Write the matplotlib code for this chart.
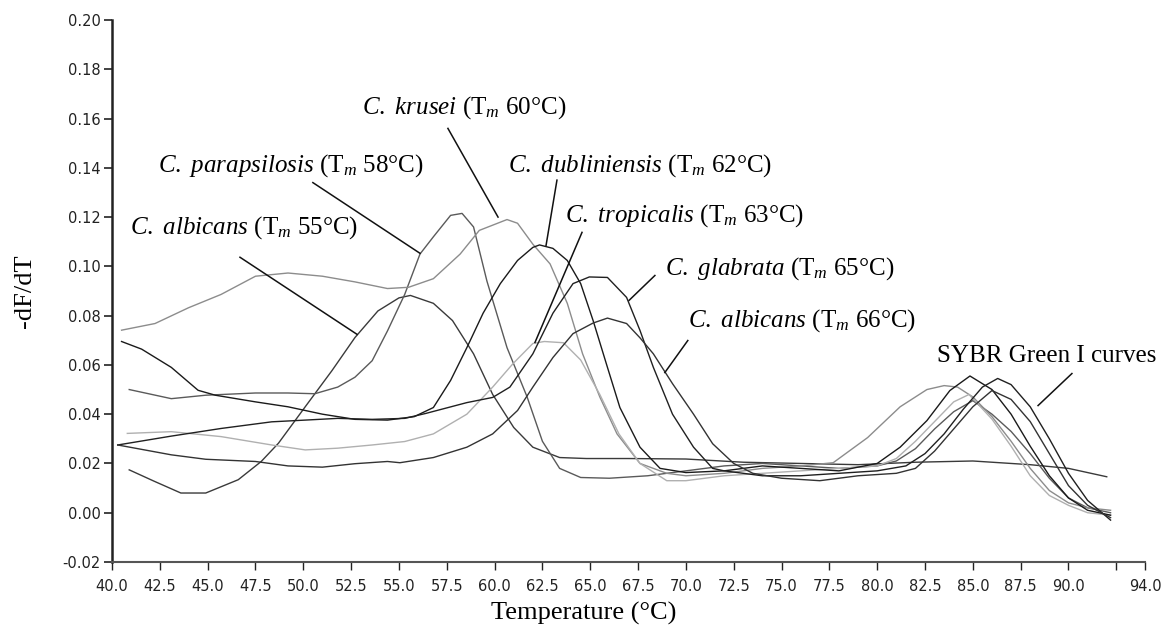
import matplotlib
matplotlib.use('Agg')
import matplotlib.pyplot as plt

plt.rcParams['mathtext.fontset'] = 'custom'
plt.rcParams['mathtext.rm'] = 'Liberation Serif'
plt.rcParams['mathtext.it'] = 'Liberation Serif:italic'

# Curvas de fusion (-dF/dT)
alb55_t = [40.9, 42.2, 43.6, 44.9, 46.6, 47.8, 48.7, 50.1, 51.5, 52.7, 53.9, 55.0, 55.6, 56.8, 57.8,
           58.9, 59.9, 61.0, 62.0, 63.4, 64.8, 67, 70, 73, 76, 79, 82, 85, 88, 90, 92]
alb55_v = [0.0174, 0.0128, 0.0080, 0.0080, 0.0134, 0.0208, 0.0282, 0.0430, 0.0577, 0.0711, 0.0819,
           0.0872, 0.0882, 0.0850, 0.0780, 0.0645, 0.0480, 0.0346, 0.0266, 0.0224, 0.0220, 0.0220,
           0.0218, 0.0205, 0.0200, 0.0195, 0.0205, 0.0210, 0.0195, 0.0180, 0.0146]

para_t = [40.9, 43.1, 44.9, 47.5, 49.2, 50.6, 51.8, 52.7, 53.6, 54.4, 55.3, 56.1, 56.8, 57.7, 58.3,
          58.9, 59.6, 60.65, 61.7, 62.5, 63.4, 64.5, 66, 68, 70, 72, 74, 76, 78, 80, 81, 82, 83, 84,
          85, 86, 87, 88, 89, 90, 91, 92.2]
para_v = [0.050, 0.0463, 0.0477, 0.0486, 0.0486, 0.0483, 0.051, 0.055, 0.0617, 0.0738, 0.0886, 0.105,
          0.112, 0.1207, 0.1215, 0.116, 0.094, 0.067, 0.047, 0.029, 0.018, 0.0143, 0.014, 0.015,
          0.017, 0.019, 0.020, 0.019, 0.018, 0.019, 0.021, 0.026, 0.034, 0.041, 0.0455, 0.040,
          0.033, 0.024, 0.014, 0.006, 0.002, 0.000]

krus_t = [40.5, 42.25, 44.0, 45.7, 47.5, 49.2, 51.0, 52.7, 54.4, 55.5, 56.8, 58.2, 59.2, 60.65, 61.2,
          62.0, 62.9, 63.8, 64.6, 65.5, 66.4, 67.6, 69, 70, 72, 74, 76, 77.7, 79.5, 81.2, 82.6, 83.5,
          84.2, 85, 86, 87, 88, 89, 90, 91, 92.2]
krus_v = [0.0741, 0.0768, 0.0832, 0.0886, 0.096, 0.0973, 0.096, 0.0937, 0.091, 0.0915, 0.095, 0.105,
          0.1146, 0.119, 0.1175, 0.109, 0.101, 0.085, 0.0645, 0.047, 0.032, 0.020, 0.016, 0.015,
          0.016, 0.018, 0.019, 0.0203, 0.0305, 0.043, 0.050, 0.0516, 0.051, 0.047, 0.039, 0.029,
          0.018, 0.009, 0.004, 0.002, 0.001]

dubl_t = [40.5, 41.55, 43.1, 44.5, 45.4, 47.5, 49.2, 51.0, 52.7, 54.4, 55.8, 56.8, 57.7, 58.55, 59.4,
          60.3, 61.2, 62.0, 62.35, 63.05, 63.8, 64.5, 65.15, 65.9, 66.55, 67.6, 68.65, 70, 72, 74,
          76, 78, 80, 81.2, 82.6, 83.8, 84.85, 86, 87, 88, 89, 90, 91, 92.2]
dubl_v = [0.0695, 0.0664, 0.059, 0.0497, 0.0477, 0.045, 0.043, 0.040, 0.0379, 0.0376, 0.0390, 0.0427,
          0.0537, 0.067, 0.081, 0.093, 0.1024, 0.1077, 0.1087, 0.1073, 0.1024, 0.093, 0.078, 0.059,
          0.0427, 0.0266, 0.018, 0.0163, 0.017, 0.019, 0.018, 0.017, 0.020, 0.0266, 0.0374, 0.0496,
          0.0555, 0.050, 0.040, 0.027, 0.015, 0.006, 0.001, -0.001]

trop_t = [40.8, 43.1, 45.7, 48.35, 50.1, 51.8, 53.6, 55.3, 56.8, 58.55, 59.9, 60.96, 62.0, 62.6, 63.6,
          64.5, 65.5, 66.5, 67.6, 69, 70, 72, 74, 76, 78, 80, 81, 82, 83, 84, 84.8, 86, 87, 88, 89,
          90, 91, 92.2]
trop_v = [0.0322, 0.0329, 0.0309, 0.0275, 0.0255, 0.0262, 0.0275, 0.0289, 0.032, 0.040, 0.051, 0.0605,
          0.0687, 0.0695, 0.069, 0.062, 0.048, 0.032, 0.020, 0.013, 0.013, 0.015, 0.016, 0.017,
          0.018, 0.019, 0.022, 0.029, 0.037, 0.045, 0.048, 0.038, 0.027, 0.015, 0.007, 0.003,
          0.000, -0.001]

glab_t = [40.3, 43.1, 45.7, 48.35, 50.1, 51.8, 53.6, 55.3, 56.4, 58.55, 59.9, 60.8, 62.0, 63.05, 64.1,
          64.95, 65.9, 66.9, 67.6, 68.3, 69.3, 70.4, 71.4, 72, 74, 76, 78, 80, 81.5, 82.5, 83.5,
          84.5, 85.5, 86.3, 87, 88, 89, 90, 91, 92.2]
glab_v = [0.0275, 0.0311, 0.0342, 0.0369, 0.0376, 0.0383, 0.0379, 0.0383, 0.0403, 0.0447, 0.0468,
          0.051, 0.0645, 0.081, 0.093, 0.0957, 0.0955, 0.0874, 0.074, 0.059, 0.040, 0.0266, 0.018,
          0.017, 0.015, 0.015, 0.016, 0.017, 0.019, 0.024, 0.032, 0.042, 0.051, 0.0545, 0.052,
          0.043, 0.030, 0.016, 0.005, -0.003]

alb66_t = [40.3, 43.1, 44.9, 47.5, 49.2, 51.0, 52.7, 54.4, 55.05, 56.8, 58.55, 59.9, 61.2, 62.0, 63.05,
           64.1, 65.15, 65.9, 66.9, 67.6, 68.3, 69.3, 70.4, 71.4, 72.5, 73.5, 75, 77, 79, 81, 82, 83,
           84, 85, 86, 87, 88, 89, 90, 91, 92.2]
alb66_v = [0.0275, 0.0235, 0.0217, 0.0208, 0.019, 0.0185, 0.0199, 0.0208, 0.0203, 0.0224, 0.0266,
           0.032, 0.0415, 0.051, 0.063, 0.0727, 0.077, 0.079, 0.0768, 0.071, 0.0645, 0.0524, 0.040,
           0.028, 0.020, 0.016, 0.014, 0.013, 0.015, 0.016, 0.018, 0.025, 0.034, 0.043, 0.0496,
           0.046, 0.037, 0.024, 0.011, 0.003, -0.002]

x_ticks = [40.0, 42.5, 45.0, 47.5, 50.0, 52.5, 55.0, 57.5, 60.0, 62.5, 65.0, 67.5, 70.0, 72.5,
           75.0, 77.5, 80.0, 82.5, 85.0, 87.5, 90.0, 92.5, 94.0]
x_tick_labels = ['40.0', '42.5', '45.0', '47.5', '50.0', '52.5', '55.0', '57.5', '60.0', '62.5',
                 '65.0', '67.5', '70.0', '72.5', '75.0', '77.5', '80.0', '82.5', '85.0', '87.5',
                 '90.0', '', '94.0']
y_ticks = [-0.02, 0.00, 0.02, 0.04, 0.06, 0.08, 0.10, 0.12, 0.14, 0.16, 0.18, 0.20]

fig = plt.figure(figsize=(11.68, 6.31), dpi=100)
ax = fig.add_axes([112/1168, 1 - 562/631, (1145 - 112)/1168, (562 - 20)/631])

curvas = [
    (alb55_t, alb55_v, '#3a3a3a'),
    (para_t, para_v, '#5a5a5a'),
    (krus_t, krus_v, '#8c8c8c'),
    (trop_t, trop_v, '#b0b0b0'),
    (dubl_t, dubl_v, '#1a1a1a'),
    (glab_t, glab_v, '#202020'),
    (alb66_t, alb66_v, '#333333'),
]
for t, v, c in curvas:
    ax.plot(t, v, color=c, lw=1.0)

ax.set_xlim(40, 94)
ax.set_ylim(-0.02, 0.20)
ax.set_xticks(x_ticks)
ax.set_xticklabels(x_tick_labels)
ax.set_yticks(y_ticks)
ax.set_yticklabels(['%.2f' % y for y in y_ticks])
ax.tick_params(axis='x', length=6, width=1.0, pad=6, labelsize=10.5, colors='#222222')
ax.tick_params(axis='y', length=6, width=1.2, pad=2, labelsize=10.5, colors='#222222')
for lbl in ax.get_xticklabels() + ax.get_yticklabels():
    lbl.set_family('DejaVu Sans')

for s in ['top', 'right']:
    ax.spines[s].set_visible(False)
ax.spines['left'].set_linewidth(1.8)
ax.spines['left'].set_color('#222222')
ax.spines['bottom'].set_linewidth(1.5)
ax.spines['bottom'].set_color('#555555')

serif = 'Liberation Serif'
fig.text(25/1168, 1 - 291/631, '-dF/dT', rotation=90, ha='center', va='center',
         fontsize=19, family=serif)
fig.text(584/1168, 1 - 613/631, 'Temperature (°C)', ha='center', va='center',
         fontsize=19, family=serif)

# Etiquetas con lineas indicadoras
etiquetas = [
    (r'$\mathit{C.}$ $\mathit{albicans}$ (T$_{\mathit{m}}$ 55°C)', (40.94, 0.1159), (46.69, 0.1037), (52.81, 0.0724)),
    (r'$\mathit{C.}$ $\mathit{parapsilosis}$ (T$_{\mathit{m}}$ 58°C)', (42.4, 0.141), (50.5, 0.134), (56.1, 0.1053)),
    (r'$\mathit{C.}$ $\mathit{krusei}$ (T$_{\mathit{m}}$ 60°C)', (53.07, 0.1646), (57.56, 0.156), (60.18, 0.120)),
    (r'$\mathit{C.}$ $\mathit{dubliniensis}$ (T$_{\mathit{m}}$ 62°C)', (60.7, 0.141), (63.26, 0.135), (62.69, 0.1085)),
    (r'$\mathit{C.}$ $\mathit{tropicalis}$ (T$_{\mathit{m}}$ 63°C)', (63.68, 0.1207), (64.57, 0.1138), (62.11, 0.0691)),
    (r'$\mathit{C.}$ $\mathit{glabrata}$ (T$_{\mathit{m}}$ 65°C)', (68.9, 0.0992), (68.38, 0.0963), (67.03, 0.0862)),
    (r'$\mathit{C.}$ $\mathit{albicans}$ (T$_{\mathit{m}}$ 66°C)', (70.1, 0.078), (70.1, 0.0699), (68.9, 0.0569)),
    ('SYBR Green I curves', (83.13, 0.0635), (90.18, 0.0565), (88.41, 0.0435)),
]
for texto, pos, p0, p1 in etiquetas:
    ax.text(pos[0], pos[1], texto, ha='left', va='center', fontsize=18, family=serif)
    ax.plot([p0[0], p1[0]], [p0[1], p1[1]], color='#111111', lw=1.1)

fig.savefig('out.png', dpi=100)
